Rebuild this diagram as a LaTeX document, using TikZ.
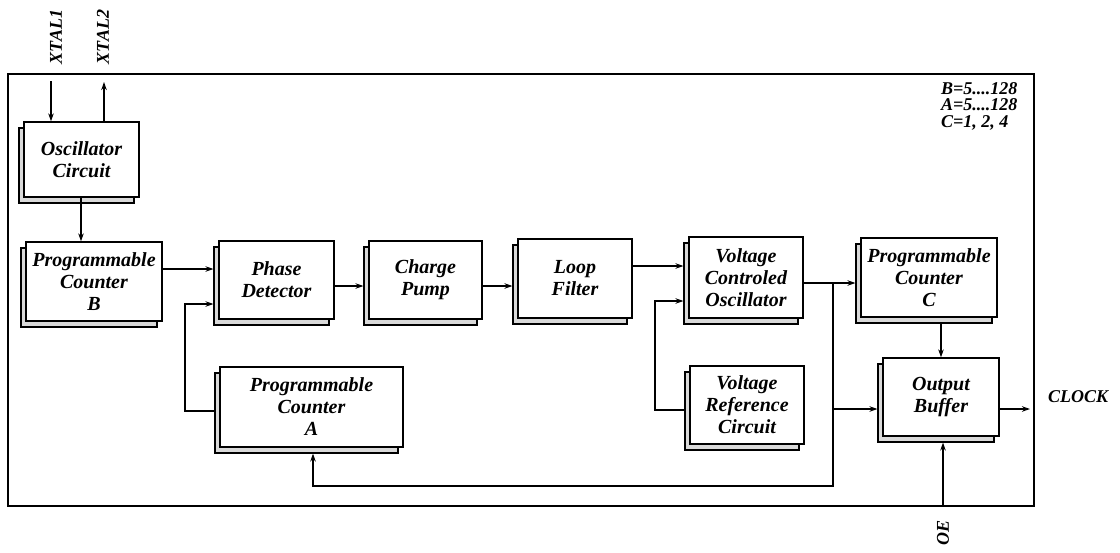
\documentclass[tikz,border=0pt]{standalone}
\usepackage{fontspec}
\setmainfont{Liberation Serif}
\usetikzlibrary{arrows.meta,calc}
\tikzset{
  x=1pt,y=-1pt,
  front/.style={draw=black, fill=white, line width=1.3pt, inner sep=0pt, align=center,
    font=\fontsize{20}{22}\selectfont\bfseries\itshape},
  shade/.style={draw=black, fill=gray!30, line width=1.1pt, inner sep=0pt},
  lbl/.style={inner sep=0pt, font=\fontsize{18}{18}\selectfont\bfseries\itshape},
  wire/.style={line width=1.3pt, line cap=rect},
  arr/.style={wire, -{Stealth[length=8pt,width=5.5pt]}},
}
\newcommand\blk[6]{%
  \node[shade, minimum width=#4pt, minimum height=#5pt] (#1s) at (#2-5,#3+6) {};
  \node[front, minimum width=#4pt, minimum height=#5pt] (#1) at (#2,#3) {#6};
}
\begin{document}
\begin{tikzpicture}
\useasboundingbox (0,0) rectangle (1120,552);
% frame
\node[draw=black, line width=1.5pt, minimum width=1026pt, minimum height=432pt, inner sep=0pt] (frame) at (521,290) {};
% blocks
\blk{osc}{81.5}{159.5}{115}{75}{Oscillator\\Circuit}
\blk{pcb}{94}{281.5}{136}{79}{Programmable\\Counter\\B}
\blk{pd}{276.5}{280}{115}{78}{Phase\\Detector}
\blk{cp}{425.5}{280}{113}{78}{Charge\\Pump}
\blk{lf}{575}{278.5}{114}{79}{Loop\\Filter}
\blk{vco}{746}{277.5}{114}{81}{Voltage\\Controled\\Oscillator}
\blk{vrc}{747}{405}{114}{78}{Voltage\\Reference\\Circuit}
\blk{pca}{311.5}{407}{183}{80}{Programmable\\Counter\\A}
\blk{pcc}{929}{277.5}{136}{79}{Programmable\\Counter\\C}
\blk{ob}{941}{397}{116}{78}{Output\\Buffer}
% labels
\node[lbl, rotate=90] (xtal1) at (56,37) {XTAL1};
\node[lbl, rotate=90] (xtal2) at (103,37) {XTAL2};
\node[lbl] (clock) at (1078,397) {CLOCK};
\node[lbl, rotate=90] (oe) at (943,533) {OE};
\node[lbl, anchor=north west, align=left, font=\fontsize{18}{16.5}\selectfont\bfseries\itshape] (par) at (941,82) {B=5....128\\A=5....128\\C=1, 2, 4};
% coordinates
\coordinate (x1) at (51,82);
\coordinate (x2) at (104,82);
\coordinate (jn) at (833,283);
\coordinate (fb) at (313,486);
\coordinate (lp) at (185,304);
\coordinate (vp) at (655,301);
\coordinate (ck) at (1030,409);
% connectors
\draw[arr] (x1) -- (osc.north -| x1);
\draw[arr] (osc.north -| x2) -- (x2);
\draw[arr] (osc.south -| 81,0) -- (pcb.north -| 81,0);
\draw[arr] (pcb.east |- 0,269) -- (pds.west |- 0,269);
\draw[arr] (pcas.west |- 0,411) -| (lp) -- (pds.west |- lp);
\draw[arr] (pd.east |- 0,286) -- (cps.west |- 0,286);
\draw[arr] (cp.east |- 0,286) -- (lfs.west |- 0,286);
\draw[arr] (lf.east |- 0,266) -- (vcos.west |- 0,266);
\draw[arr] (vrcs.west |- 0,410) -| (vp) -- (vcos.west |- vp);
\draw[arr] (vco.east |- jn) -- (pccs.west |- jn);
\draw[arr] (jn) |- (fb) -- (pcas.south -| fb);
\draw[arr] (jn |- 0,409) -- (obs.west |- 0,409);
\draw[arr] (pccs.south -| ob.north) -- (ob.north);
\draw[arr] (ob.east |- ck) -- (ck);
\draw[arr] (frame.south -| oe) -- (obs.south -| oe);
\end{tikzpicture}
\end{document}
